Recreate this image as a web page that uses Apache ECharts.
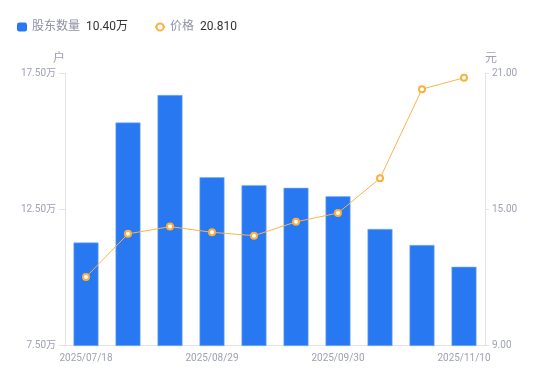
<!DOCTYPE html>
<html><head><meta charset="utf-8">
<script src="https://cdn.jsdelivr.net/npm/echarts@6/dist/echarts.min.js"></script>
<style>html,body{margin:0;padding:0;background:#fff}#c{width:550px;height:381px}</style>
</head><body><div id="c"></div>
<script>
var categories = ['2025/07/18','2025/07/31','2025/08/20','2025/08/29','2025/09/10','2025/09/19','2025/09/30','2025/10/20','2025/10/31','2025/11/10'];
var holders = [112900,157000,167100,136900,134000,133000,129900,117900,112000,104000];
var prices = [12.03,13.93,14.25,14.00,13.85,14.46,14.85,16.38,20.31,20.81];
var leftTicks = {min:75000, max:175000, interval:50000};
var rightTicks = {min:9, max:21, interval:6};

var gray = '#9fa2b4';
var chart = echarts.init(document.getElementById('c'));
chart.setOption({
  animation:false,
  textStyle:{fontFamily:'Roboto, "Noto Sans CJK SC", sans-serif'},
  legend:{
    left:12, top:16, itemGap:26, itemWidth:10, itemHeight:9,
    data:[{name:'股东数量', icon:'roundRect', itemStyle:{borderWidth:0}},{name:'价格'}],
    formatter:function(n){
      if(n==='股东数量') return '{a|股东数量}  {b|'+(holders[holders.length-1]/10000).toFixed(2)+'万}';
      return '{a|价格}  {b|'+prices[prices.length-1].toFixed(3)+'}';
    },
    textStyle:{rich:{a:{color:'#8e91a5',fontSize:12},b:{color:'#333',fontSize:12}}}
  },
  grid:{left:65, right:65, top:73.5, bottom:35.3},
  xAxis:{
    type:'category', data:categories,
    axisLine:{lineStyle:{color:'#e3e3e6'}},
    axisTick:{show:false},
    axisLabel:{color:gray, fontSize:10, interval:2, margin:8}
  },
  yAxis:[{
    type:'value', name:'户', min:leftTicks.min, max:leftTicks.max, interval:leftTicks.interval,
    nameTextStyle:{color:gray, fontSize:12, align:'right', padding:[0,0,0,0]}, nameGap:8,
    axisLine:{show:true, lineStyle:{color:'#e3e3e6'}},
    axisTick:{show:true, length:6, lineStyle:{color:'#e3e3e6'}},
    splitLine:{show:false},
    axisLabel:{color:gray, fontSize:10, margin:9, formatter:function(v){return (v/10000).toFixed(2)+'万';}}
  },{
    type:'value', name:'元', min:rightTicks.min, max:rightTicks.max, interval:rightTicks.interval,
    nameTextStyle:{color:gray, fontSize:12, align:'left', padding:[0,0,0,0]}, nameGap:8,
    axisLine:{show:true, lineStyle:{color:'#e3e3e6'}},
    axisTick:{show:true, length:4, lineStyle:{color:'#e3e3e6'}},
    splitLine:{show:false},
    axisLabel:{color:gray, fontSize:10, margin:7, formatter:function(v){return v.toFixed(2);}}
  }],
  series:[{
    name:'股东数量', type:'bar', data:holders, barWidth:25,
    itemStyle:{color:'#2878f2', borderColor:'#7fb0f7', borderWidth:0.6}
  },{
    name:'价格', type:'line', yAxisIndex:1, data:prices,
    symbol:'circle', symbolSize:6,
    lineStyle:{color:'#fbb44a', width:1},
    itemStyle:{color:'#fff', borderColor:'#fbb040', borderWidth:2}
  }]
});
</script></body></html>
